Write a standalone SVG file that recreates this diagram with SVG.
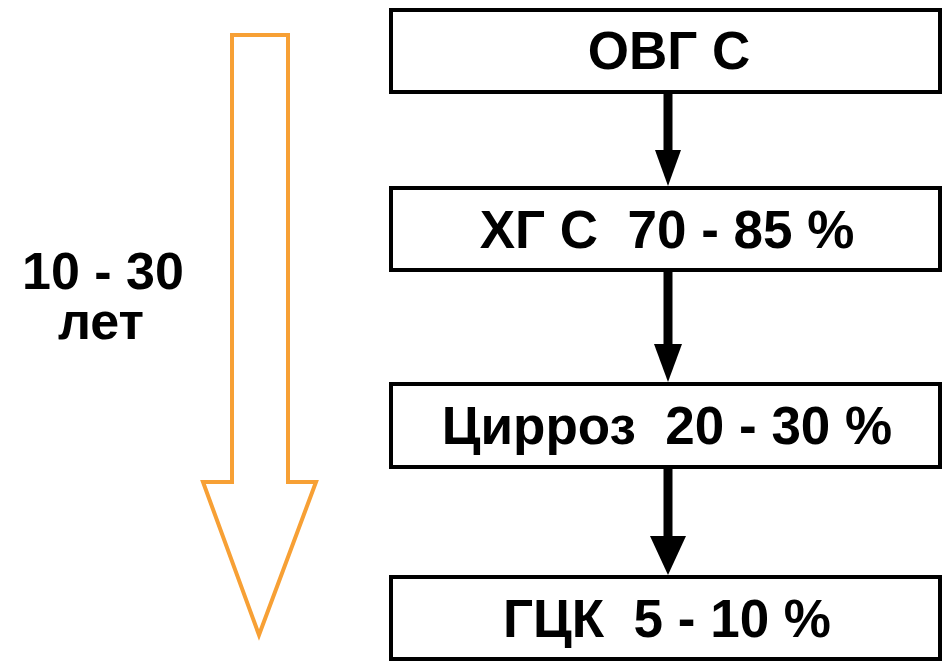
<svg xmlns="http://www.w3.org/2000/svg" width="948" height="663" viewBox="0 0 948 663">
<defs>
<style>
.box{fill:#fff;stroke:#000;stroke-width:4}
.t{font-family:"Liberation Sans",Arial,sans-serif;font-weight:bold;font-size:53px;fill:#000;text-anchor:middle;white-space:pre}
.c{stroke:#000;stroke-width:9;fill:none}
.h{fill:#000}
</style>
</defs>
<rect width="948" height="663" fill="#fff"/>
<g id="timeline">
<path d="M232,35 H288 V482 H316 L259,635 L203,482 H232 Z" fill="none" stroke="#F7A035" stroke-width="4" stroke-linejoin="miter"/>
<text class="t" x="103" y="289" style="font-size:52px">10 - 30</text>
<text class="t" x="101" y="339" style="font-size:52px">лет</text>
</g>
<g id="connectors">
<line class="c" x1="668" y1="93" x2="668" y2="152"/>
<polygon class="h" points="655,150 681,150 668,186"/>
<line class="c" x1="668" y1="271" x2="668" y2="346"/>
<polygon class="h" points="654,344 682,344 668,382"/>
<line class="c" x1="668" y1="468" x2="668" y2="538"/>
<polygon class="h" points="650,536 686,536 668,575"/>
</g>
<g id="n1"><rect class="box" x="391" y="10" width="549" height="82"/><text class="t" x="669" y="69">ОВГ С</text></g>
<g id="n2"><rect class="box" x="391" y="188" width="549" height="82"/><text class="t" x="667" y="248" xml:space="preserve">ХГ С  70 - 85 %</text></g>
<g id="n3"><rect class="box" x="391" y="384" width="549" height="83"/><text class="t" x="667" y="444" xml:space="preserve">Цирроз  20 - 30 %</text></g>
<g id="n4"><rect class="box" x="391" y="577" width="549" height="82"/><text class="t" x="667" y="637" xml:space="preserve">ГЦК  5 - 10 %</text></g>
</svg>
